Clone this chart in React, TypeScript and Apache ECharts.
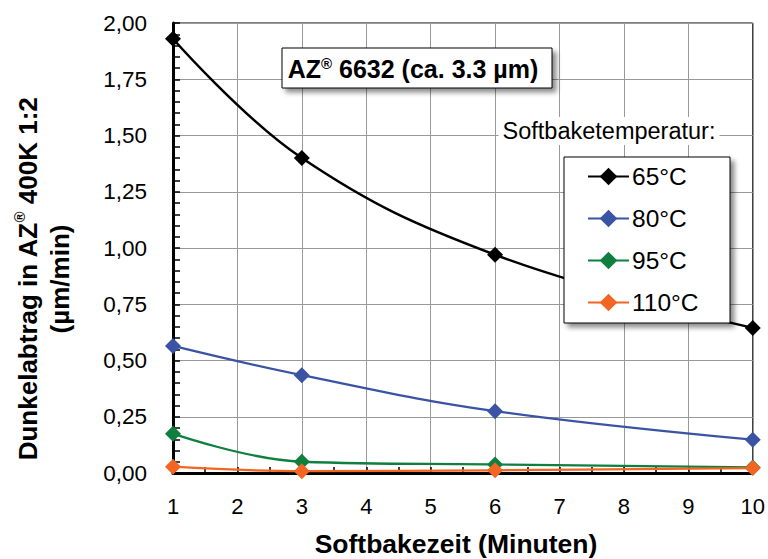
import React, { useEffect, useRef } from "react";
import * as echarts from "echarts";

const xValues = [1, 3, 6, 10];
const seriesNames = ["65°C", "80°C", "95°C", "110°C"];
const s65 = [1.93, 1.4, 0.97, 0.645];
const s80 = [0.565, 0.435, 0.275, 0.148];
const s95 = [0.175, 0.05, 0.038, 0.025];
const s110 = [0.028, 0.008, 0.012, 0.022];
const colors = ["#000000", "#3A53A4", "#0F7F3F", "#F26522"];
const allValues = [s65, s80, s95, s110];

const FONT = "Liberation Sans, Arial, sans-serif";

export default function App() {
  const ref = useRef<HTMLDivElement>(null);
  useEffect(() => {
    document.body.style.margin = "0";
    const chart = echarts.init(ref.current!, null, { renderer: "svg" });
    const series = seriesNames.map((name, i) => ({
      name,
      type: "line",
      smooth: 0.4,
      symbol: "diamond",
      symbolSize: 16,
      z: 3,
      lineStyle: { color: colors[i], width: i === 0 ? 2.5 : 2.3 },
      itemStyle: { color: colors[i] },
      data: xValues.map((x, k) => [x, allValues[i][k]]),
    }));
    chart.setOption({
      animation: false,
      backgroundColor: "#ffffff",
      textStyle: { fontFamily: FONT },
      grid: {
        left: 173,
        right: 15,
        top: 23,
        bottom: 86,
        show: true,
        borderColor: "#000",
        borderWidth: 1,
        backgroundColor: "transparent",
      },
      xAxis: {
        type: "value",
        min: 1,
        max: 10,
        interval: 1,
        axisLine: { lineStyle: { color: "#000", width: 3 } },
        axisTick: { inside: true, length: 6, lineStyle: { color: "#000", width: 1.5 } },
        minorTick: { show: true, splitNumber: 2, length: 6, lineStyle: { color: "#000", width: 1.5 } },
        splitLine: { show: true, lineStyle: { color: "#999", width: 1 } },
        axisLabel: { color: "#000", fontSize: 22, margin: 22, fontFamily: FONT },
      },
      yAxis: {
        type: "value",
        min: 0,
        max: 2,
        interval: 0.25,
        axisLine: { show: true, lineStyle: { color: "#000", width: 3 } },
        axisTick: { show: true, inside: true, length: 7, lineStyle: { color: "#000", width: 1.5 } },
        minorTick: { show: true, splitNumber: 5, length: 7, lineStyle: { color: "#000", width: 1.5 } },
        splitLine: { show: true, lineStyle: { color: "#999", width: 1 } },
        axisLabel: {
          color: "#000",
          fontSize: 22.5,
          margin: 26,
          fontFamily: FONT,
          formatter: (v: number) => v.toFixed(2).replace(".", ","),
        },
      },
      legend: {
        orient: "vertical",
        left: 587,
        top: 164,
        padding: 0,
        itemGap: 17,
        itemWidth: 41,
        itemHeight: 22,
        z: 20,
        data: seriesNames,
        textStyle: { fontSize: 24.5, lineHeight: 24, color: "#000", fontFamily: FONT, padding: [0, 0, 0, -2] },
      },
      graphic: [
        {
          type: "rect",
          z: 15,
          shape: { x: 564, y: 157, width: 166, height: 166 },
          style: {
            fill: "#fff",
            stroke: "#000",
            lineWidth: 1,
            shadowBlur: 5,
            shadowOffsetX: 4,
            shadowOffsetY: 4,
            shadowColor: "rgba(0,0,0,0.45)",
          },
        },
        {
          type: "text",
          z: 15,
          x: 609,
          y: 131,
          style: {
            text: "Softbaketemperatur:",
            fontSize: 23.5,
            fontFamily: FONT,
            fill: "#000",
            align: "center",
            verticalAlign: "middle",
            backgroundColor: "#fff",
            padding: [2, 4, 2, 4],
          },
        },
        {
          type: "rect",
          z: 15,
          shape: { x: 282, y: 48, width: 270, height: 40 },
          style: {
            fill: "#fff",
            stroke: "#000",
            lineWidth: 1,
            shadowBlur: 5,
            shadowOffsetX: 4,
            shadowOffsetY: 4,
            shadowColor: "rgba(0,0,0,0.45)",
          },
        },
        {
          type: "text",
          z: 16,
          x: 413,
          y: 69,
          style: {
            text: "{b|AZ}{s|®}{b| 6632 (ca. 3.3 µm)}",
            align: "center",
            verticalAlign: "middle",
            fill: "#000",
            rich: {
              b: { fontSize: 25, fontWeight: "bold", fontFamily: FONT, fill: "#000", lineHeight: 26 },
              s: { fontSize: 15, fontWeight: "bold", fontFamily: FONT, fill: "#000", verticalAlign: "top", lineHeight: 18 },
            },
          },
        },
        {
          type: "text",
          z: 16,
          x: 44,
          y: 279,
          rotation: Math.PI / 2,
          style: {
            text: "{b|Dunkelabtrag in AZ}{s|®}{b| 400K 1:2}\n{b|(µm/min)}",
            align: "center",
            verticalAlign: "middle",
            fill: "#000",
            rich: {
              b: { fontSize: 26, fontWeight: "bold", fontFamily: FONT, fill: "#000", lineHeight: 32 },
              s: { fontSize: 15, fontWeight: "bold", fontFamily: FONT, fill: "#000", verticalAlign: "top", lineHeight: 24 },
            },
          },
        },
        {
          type: "text",
          z: 16,
          x: 456,
          y: 544,
          style: {
            text: "Softbakezeit (Minuten)",
            fontSize: 26.5,
            fontWeight: "bold",
            fontFamily: FONT,
            fill: "#000",
            align: "center",
            verticalAlign: "middle",
          },
        },
      ],
      series,
    });
    return () => chart.dispose();
  }, []);
  return <div ref={ref} style={{ width: 768, height: 559 }} />;
}
